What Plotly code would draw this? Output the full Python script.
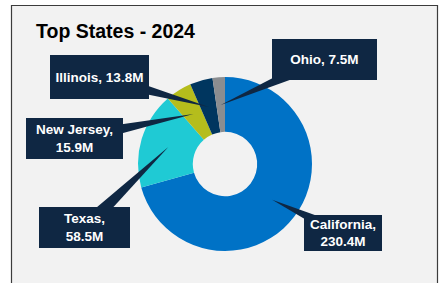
import math
import plotly.graph_objects as go

W, H = 439, 283

states = ["California", "Texas", "New Jersey", "Illinois", "Ohio"]
values = [230.4, 58.5, 15.9, 13.8, 7.5]
value_labels = ["230.4M", "58.5M", "15.9M", "13.8M", "7.5M"]
colors = ["#0072C6", "#1FCAD4", "#B5BD1C", "#00365F", "#8B8D90"]
title_text = "Top States - 2024"

# label text layout (line break or single line)
label_texts = [
    f"{states[0]},<br>{value_labels[0]}",
    f"{states[1]},<br>{value_labels[1]}",
    f"{states[2]},<br>{value_labels[2]}",
    f"{states[3]}, {value_labels[3]}",
    f"{states[4]}, {value_labels[4]}",
]

# callout box placement (pixels: center x, center y, width, height)
boxes = [
    (343, 233, 78, 36),
    (84.5, 227.5, 91, 41),
    (74.5, 138.5, 97, 41),
    (99.5, 77, 99, 44),
    (324.5, 59.5, 105, 41),
]

# donut geometry in pixels
cx, cy, R = 225, 164, 87
HOLE = 0.37
NAVY = "#0F2743"


def px(x):
    return x / W


def py(y):
    return 1 - y / H


fig = go.Figure()
fig.add_trace(go.Pie(
    labels=states,
    values=values,
    marker=dict(colors=colors, line=dict(width=0)),
    hole=HOLE,
    sort=False,
    direction="clockwise",
    rotation=0,
    textinfo="none",
    hovertemplate="%{label}: %{value}M<extra></extra>",
    domain=dict(x=[px(cx - R), px(cx + R)], y=[py(cy + R), py(cy - R)]),
    showlegend=False,
))

shapes = [
    dict(type="rect", xref="paper", yref="paper",
         x0=px(11.5), x1=px(437.5), y0=-0.2, y1=py(5.5),
         fillcolor="#F2F2F2", line=dict(color="#3C3C3C", width=1.2),
         layer="below"),
]

total = sum(values)
cum = 0.0
annotations = []
for i, v in enumerate(values):
    mid = (cum + v / 2) / total * 2 * math.pi
    cum += v
    r_tip = R * 0.68
    tx = cx + math.sin(mid) * r_tip
    ty = cy - math.cos(mid) * r_tip
    bx, by, bw, bh = boxes[i]
    dx, dy = tx - bx, ty - by
    L = math.hypot(dx, dy)
    nx, ny = -dy / L, dx / L
    hw = 7.5
    p1 = (bx + nx * hw, by + ny * hw)
    p2 = (bx - nx * hw, by - ny * hw)
    path = (f"M {px(p1[0])},{py(p1[1])} L {px(p2[0])},{py(p2[1])} "
            f"L {px(tx)},{py(ty)} Z")
    shapes.append(dict(type="path", xref="paper", yref="paper", path=path,
                       fillcolor=NAVY, line=dict(width=0), layer="above"))
    annotations.append(dict(
        xref="paper", yref="paper", x=px(bx), y=py(by),
        xanchor="center", yanchor="middle",
        text=f"<b>{label_texts[i]}</b>", showarrow=False,
        font=dict(family="Liberation Sans, Arial, sans-serif", size=13.5, color="white"),
        bgcolor=NAVY, borderpad=0, borderwidth=0,
        width=bw, height=bh, align="center", valign="middle",
    ))

annotations.append(dict(
    xref="paper", yref="paper", x=px(34), y=py(31),
    xanchor="left", yanchor="middle", showarrow=False,
    text=f"<b>{title_text}</b>",
    font=dict(family="Liberation Sans, Arial, sans-serif", size=19.5, color="black"),
))

fig.update_layout(
    width=W, height=H,
    margin=dict(l=0, r=0, t=0, b=0),
    paper_bgcolor="white",
    plot_bgcolor="white",
    shapes=shapes,
    annotations=annotations,
)

fig.write_html("out.html",
               config={"displayModeBar": False},
               post_script="document.body.style.margin='0';document.body.style.overflow='hidden';")
